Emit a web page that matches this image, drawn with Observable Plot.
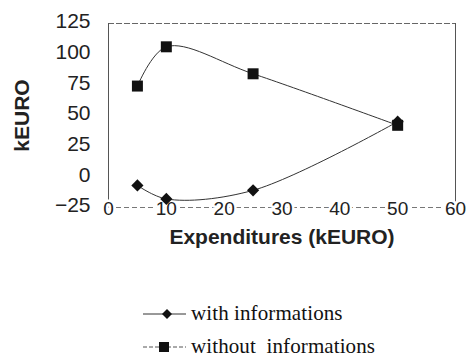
<!DOCTYPE html>
<html><head><meta charset="utf-8">
<script src="https://cdn.jsdelivr.net/npm/d3@7"></script>
<script src="https://cdn.jsdelivr.net/npm/@observablehq/plot@0.6"></script>
<style>
body{margin:0;background:#fff;width:467px;height:358px;overflow:hidden}
#legend{position:relative;height:98px;font-family:"Liberation Serif","Times New Roman",serif;font-size:21px;letter-spacing:0.1px;color:#111}
.row{position:absolute;left:142px;display:flex;align-items:center;white-space:pre}
.row svg{margin-right:3px}
</style></head><body>
<div id="chart"></div>
<div id="legend"></div>
<script>
const xValues = [5, 10, 25, 50];
const withInfo = [-7, -18, -11, 45];
const withoutInfo = [74, 106, 84, 42];
const xTicks = [0, 10, 20, 30, 40, 50, 60];
const yTicks = [-25, 0, 25, 50, 75, 100, 125];
const seriesNames = ["with informations", "without  informations"];

const dWith = xValues.map((x, i) => ({x, y: withInfo[i]}));
const dWithout = xValues.map((x, i) => ({x, y: withoutInfo[i]}));
const ink = "#222";

const chart = Plot.plot({
  width: 467, height: 260,
  marginLeft: 108, marginRight: 12, marginTop: 23, marginBottom: 53,
  style: {fontFamily: "Liberation Sans, Arial, sans-serif", color: ink, background: "white"},
  x: {domain: [0, 60], axis: null},
  y: {domain: [-25, 125], axis: null},
  marks: [
    Plot.ruleY([125], {stroke: "#666", strokeDasharray: "6,2", strokeWidth: 1}),
    Plot.ruleY([-25], {stroke: "#777", strokeDasharray: "5,3", strokeWidth: 1}),
    Plot.ruleX([0], {stroke: "#555", strokeWidth: 1}),
    Plot.ruleX([60], {stroke: "#555", strokeWidth: 1}),
    Plot.axisY(yTicks, {tickSize: 0, tickPadding: 18, fontSize: 21, label: null, fill: ink, dy: -2}),
    Plot.text(xTicks, {x: d => d, y: -25, text: d => String(d), fontSize: 19, fill: ink, stroke: "white", strokeWidth: 5, paintOrder: "stroke", dy: 1}),
    Plot.line(dWithout, {x: "x", y: "y", curve: "catmull-rom", stroke: "#333", strokeWidth: 1}),
    Plot.line(dWith, {x: "x", y: "y", curve: "catmull-rom", stroke: "#333", strokeWidth: 1}),
    Plot.dot(dWith, {x: "x", y: "y", symbol: "diamond2", r: 5.5, fill: "#111", stroke: "none"}),
    Plot.dot(dWithout, {x: "x", y: "y", symbol: "square", r: 6.2, fill: "#111", stroke: "none"}),
    Plot.text(["kEURO"], {frameAnchor: "left", textAnchor: "middle", rotate: -90, dx: -86, dy: 0, fontSize: 21, fontWeight: "bold", fill: ink}),
    Plot.text(["Expenditures (kEURO)"], {frameAnchor: "bottom", dy: 36, fontSize: 21, fontWeight: "bold", fill: ink})
  ]
});
document.getElementById("chart").appendChild(chart);

const legend = document.getElementById("legend");
const sym = [
  `<svg width="46" height="14"><line x1="1" y1="7" x2="44" y2="7" stroke="#333"/><path d="M20 7 L25 2 L30 7 L25 12 Z" fill="#111"/></svg>`,
  `<svg width="46" height="14"><line x1="1" y1="7" x2="44" y2="7" stroke="#555" stroke-dasharray="4,2"/><rect x="17" y="2" width="10" height="10" fill="#111"/></svg>`
];
seriesNames.forEach((name, i) => {
  const r = document.createElement("div");
  r.className = "row";
  r.style.top = (i === 0 ? 41 : 74) + "px";
  r.innerHTML = sym[i] + `<span>${name}</span>`;
  legend.appendChild(r);
});
</script>
</body></html>
